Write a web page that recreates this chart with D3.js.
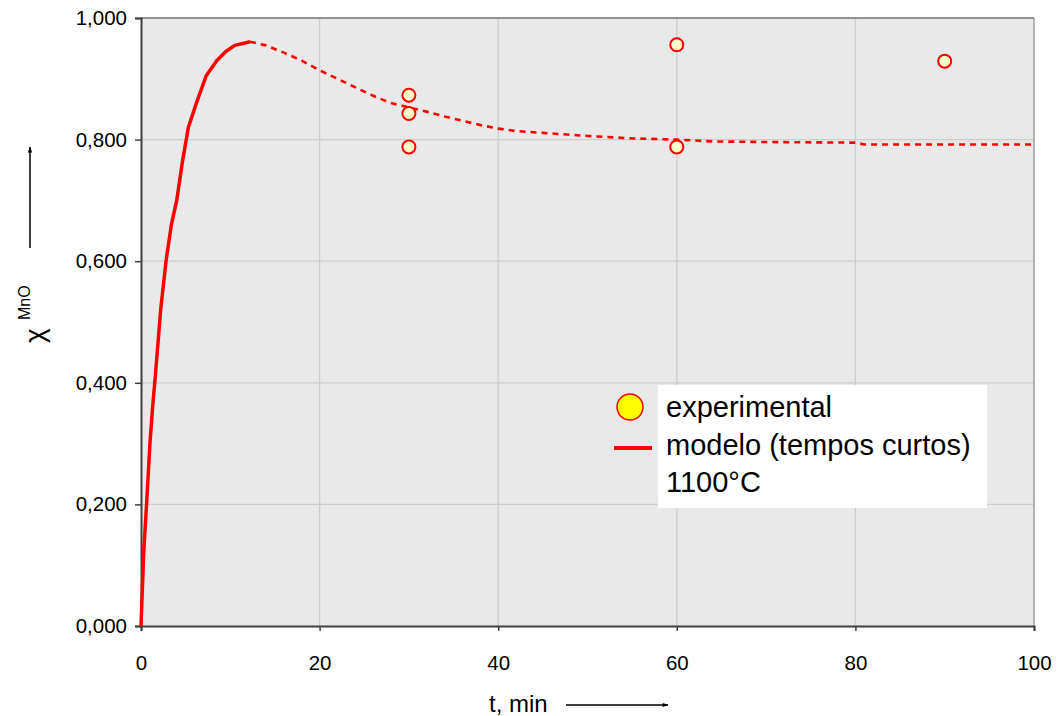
<!DOCTYPE html>
<html>
<head>
<meta charset="utf-8">
<script src="https://cdn.jsdelivr.net/npm/d3@7"></script>
<style>
  body { margin: 0; background: #fff; }
  text { font-family: "Liberation Sans", Arial, sans-serif; }
</style>
</head>
<body>
<div id="chart"></div>
<script>
// DATA
const xTicks = [0, 20, 40, 60, 80, 100]
const yTicks = [0, 0.2, 0.4, 0.6, 0.8, 1.0]

// model, short-time part (solid)
const modelT = [0, 0.3, 0.7, 1.0, 1.3, 1.6, 2.2, 2.8, 3.4, 4.0, 4.6, 5.3, 6.2, 7.3, 8.5, 9.5, 10.5, 12.2]
const modelY = [0, 0.12, 0.22, 0.30, 0.36, 0.41, 0.52, 0.60, 0.66, 0.70, 0.76, 0.82, 0.86, 0.905, 0.93, 0.945, 0.955, 0.961]

// model, extrapolated part (dashed)
const extT = [12.2, 14, 16, 18, 20, 22, 24, 26, 28, 30, 32, 34, 36, 38, 40, 42, 45, 50, 55, 60, 64, 70, 80, 81, 90, 100]
const extY = [0.961, 0.955, 0.943, 0.930, 0.914, 0.900, 0.886, 0.872, 0.860, 0.853, 0.846, 0.838, 0.831, 0.824, 0.818, 0.814, 0.811, 0.806, 0.802, 0.800, 0.797, 0.796, 0.795, 0.792, 0.792, 0.792]

// experimental points
const expT = [30, 30, 30, 60, 60, 90]
const expY = [0.873, 0.843, 0.788, 0.956, 0.788, 0.929]

const width = 1060, height = 716
const m = {left: 141, right: 1034, top: 18, bottom: 626}

// SCALE
const xScale = d3.scaleLinear().domain([0, 100]).range([m.left, m.right])
const yScale = d3.scaleLinear().domain([0, 1]).range([m.bottom, m.top])

const svg = d3.select("#chart").append("svg")
    .attr("width", width)
    .attr("height", height)

// plot background
svg.append("rect")
    .attr("x", m.left).attr("y", m.top)
    .attr("width", m.right - m.left).attr("height", m.bottom - m.top)
    .attr("fill", "#e9e9e9")

// GRID
svg.append("g").selectAll("line")
    .data(xTicks.slice(1))
    .join("line")
    .attr("x1", d => xScale(d)).attr("x2", d => xScale(d))
    .attr("y1", m.top).attr("y2", m.bottom)
    .attr("stroke", "#cdcdcd").attr("stroke-width", 1.3)

svg.append("g").selectAll("line")
    .data(yTicks.slice(1))
    .join("line")
    .attr("x1", m.left).attr("x2", m.right)
    .attr("y1", d => yScale(d)).attr("y2", d => yScale(d))
    .attr("stroke", "#cdcdcd").attr("stroke-width", 1.3)

// top / right border
svg.append("line")
    .attr("x1", m.left).attr("x2", m.right).attr("y1", m.top).attr("y2", m.top)
    .attr("stroke", "#7a7a7a").attr("stroke-width", 1.5)
svg.append("line")
    .attr("x1", m.right).attr("x2", m.right).attr("y1", m.top).attr("y2", m.bottom)
    .attr("stroke", "#9a9a9a").attr("stroke-width", 1.2)

// AXES
const xAxis = d3.axisBottom(xScale).tickValues(xTicks).tickSize(5).tickPadding(24)
    .tickFormat(d3.format("d"))
const yAxis = d3.axisLeft(yScale).tickValues(yTicks).tickSize(6).tickPadding(8)
    .tickFormat(d => d3.format(".3f")(d).replace(".", ","))

const gx = svg.append("g")
    .attr("transform", `translate(0, ${m.bottom})`)
    .call(xAxis)
gx.selectAll("text").attr("font-size", 20.5).attr("fill", "#000")

const gy = svg.append("g")
    .attr("transform", `translate(${m.left}, 0)`)
    .call(yAxis)
gy.selectAll("text").attr("font-size", 20.5).attr("fill", "#000")

svg.selectAll(".domain").attr("stroke", "#404040").attr("stroke-width", 2)
svg.selectAll(".tick line").attr("stroke", "#404040").attr("stroke-width", 1.5)
svg.selectAll(".tick text").attr("font-family", "Liberation Sans, Arial, sans-serif")

// LINES
const line = d3.line().x(d => xScale(d[0])).y(d => yScale(d[1]))

svg.append("path")
    .datum(extT.map((t, i) => [t, extY[i]]))
    .attr("d", line)
    .attr("fill", "none")
    .attr("stroke", "#ff0000")
    .attr("stroke-width", 2.6)
    .attr("stroke-dasharray", "6,5")

svg.append("path")
    .datum(modelT.map((t, i) => [t, modelY[i]]))
    .attr("d", line)
    .attr("fill", "none")
    .attr("stroke", "#ff0000")
    .attr("stroke-width", 3.5)
    .attr("stroke-linejoin", "round")

// POINTS
svg.append("g").selectAll("circle")
    .data(expT.map((t, i) => [t, expY[i]]))
    .join("circle")
    .attr("cx", d => xScale(d[0]))
    .attr("cy", d => yScale(d[1]))
    .attr("r", 6.5)
    .attr("fill", "#ffffcc")
    .attr("stroke", "#ff0000")
    .attr("stroke-width", 2)

// LEGEND
const legend = svg.append("g")
legend.append("rect")
    .attr("x", 658).attr("y", 385).attr("width", 329).attr("height", 123)
    .attr("fill", "#fff")
legend.append("circle")
    .attr("cx", 630).attr("cy", 407).attr("r", 13)
    .attr("fill", "#ffff00").attr("stroke", "#ff0000").attr("stroke-width", 1.5)
legend.append("line")
    .attr("x1", 614).attr("x2", 652).attr("y1", 448).attr("y2", 448)
    .attr("stroke", "#ff0000").attr("stroke-width", 4)
const legendText = ["experimental", "modelo (tempos curtos)", "1100°C"]
legend.selectAll("text")
    .data(legendText)
    .join("text")
    .attr("x", 666)
    .attr("y", (d, i) => 417 + i * 37.5)
    .attr("font-size", 29)
    .attr("fill", "#000")
    .text(d => d)

// AXIS TITLES
const yt = svg.append("g").attr("transform", "translate(44, 343) rotate(-90)")
yt.append("text").attr("x", 0).attr("y", 0)
    .attr("font-size", 28).attr("text-anchor", "start").text("χ")
yt.append("text").attr("x", 23).attr("y", -14)
    .attr("font-size", 16).attr("text-anchor", "start").text("MnO")

const defs = svg.append("defs")
defs.append("marker")
    .attr("id", "arrow").attr("viewBox", "0 0 10 10")
    .attr("refX", 9).attr("refY", 5)
    .attr("markerWidth", 10).attr("markerHeight", 6)
    .attr("markerUnits", "userSpaceOnUse")
    .attr("orient", "auto")
    .append("path").attr("d", "M0,1.5 L10,5 L0,8.5 Z").attr("fill", "#000")

svg.append("line")
    .attr("x1", 30).attr("x2", 30).attr("y1", 248).attr("y2", 147)
    .attr("stroke", "#000").attr("stroke-width", 1.5)
    .attr("marker-end", "url(#arrow)")

svg.append("text")
    .attr("x", 489).attr("y", 712)
    .attr("font-size", 24).attr("fill", "#000")
    .text("t, min")
svg.append("line")
    .attr("x1", 566).attr("x2", 668).attr("y1", 705).attr("y2", 705)
    .attr("stroke", "#000").attr("stroke-width", 1.5)
    .attr("marker-end", "url(#arrow)")
</script>
</body>
</html>
